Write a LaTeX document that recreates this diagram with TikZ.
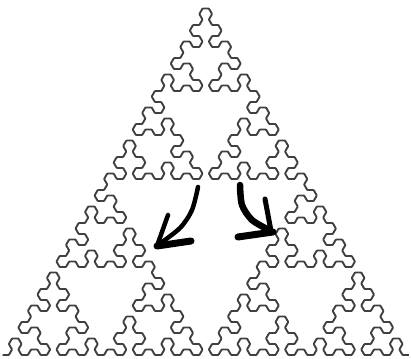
\documentclass[tikz,border=0pt]{standalone}
\usepackage{tikz}
\usetikzlibrary{lindenmayersystems}
\pgfdeclarelindenmayersystem{arrowhead}{
	\symbol{X}{\pgflsystemdrawforward}
	\symbol{Y}{\pgflsystemdrawforward}
	\rule{X -> Y-X-Y}
	\rule{Y -> X+Y+X}
}
\tikzset{curve/.style={draw=black!75, line width=1.9pt, rounded corners=0.6pt, line join=round}}
\tikzset{brush/.style={draw=black, line width=4.5pt, line cap=round, line join=round}}

\begin{document}
\begin{tikzpicture}[x=1pt, y=1pt]
		\useasboundingbox (0,0) rectangle (411,358);
		% Curve
		\begin{scope}[shift={(2.5,3)}]
			\draw[curve] (0,0) [lindenmayer system={arrowhead, axiom=X, order=6, step=6.35pt, angle=60}] lindenmayer system;
		\end{scope}
		% Left arrow
		\draw[brush, line width=4.5pt] plot[smooth] coordinates {(198,171) (192,148) (180,130) (158,113)};
		\draw[brush] plot coordinates {(168,143) (157,112)};
		\draw[brush, line width=7pt] plot coordinates {(157,112) (191,117)};
		% Right arrow
		\draw[brush, line width=6.5pt] plot[smooth] coordinates {(240,173) (242,153) (252,138) (269,128)};
		\draw[brush, line width=5pt] plot coordinates {(265,159) (271,127)};
		\draw[brush, line width=7pt] plot coordinates {(238,121) (273,126)};
	\end{tikzpicture}
\end{document}
